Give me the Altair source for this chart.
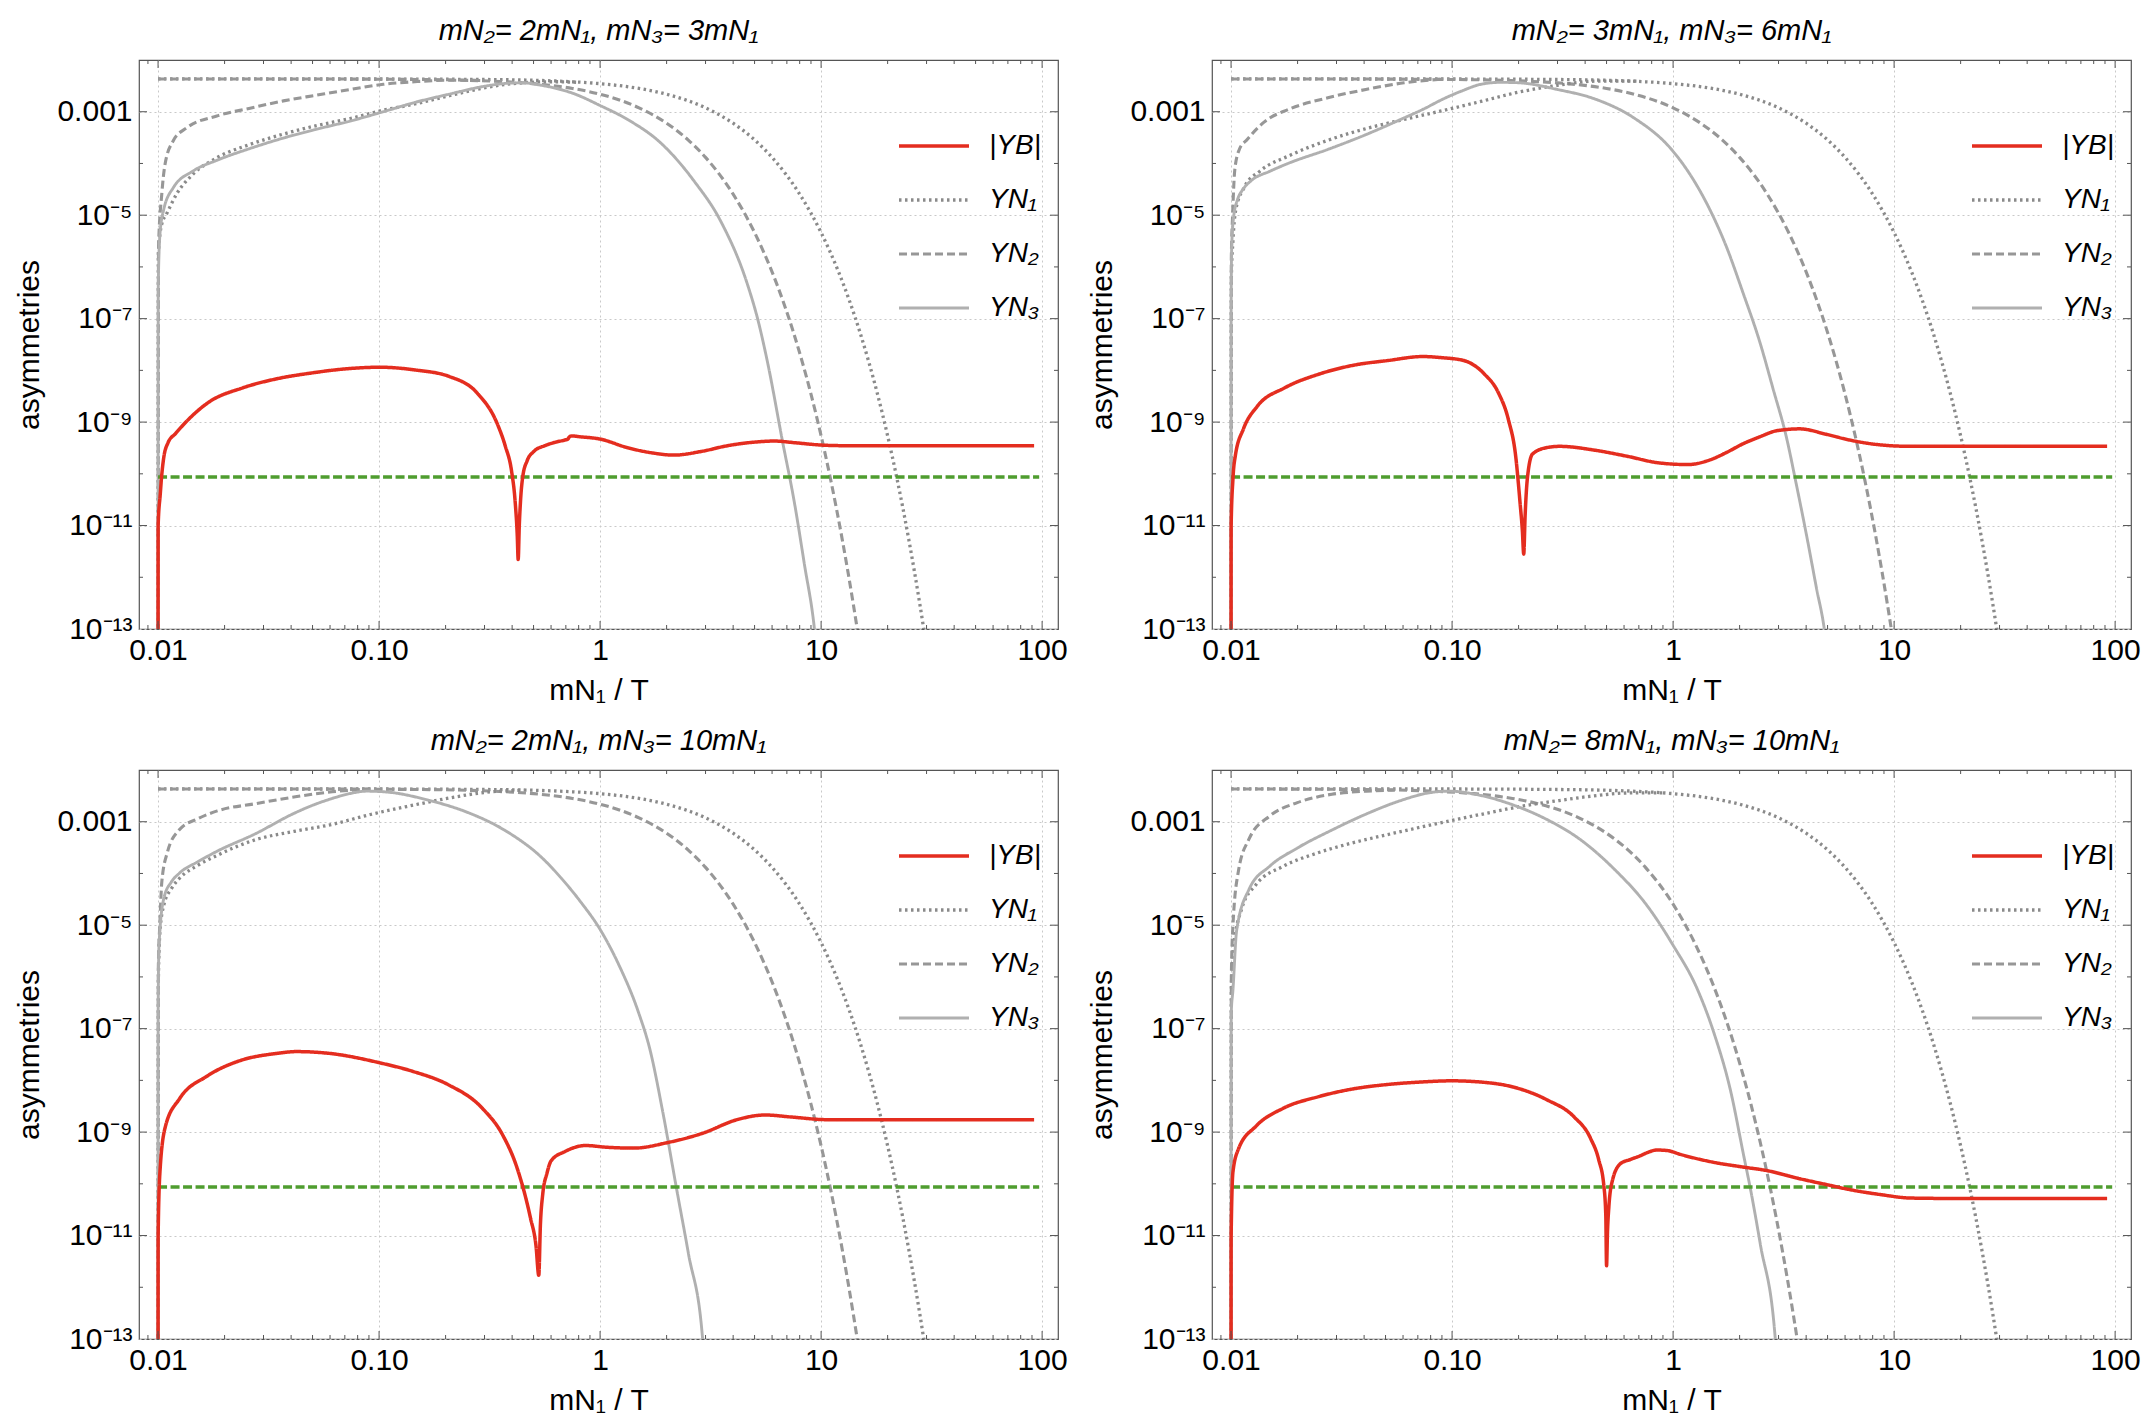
import altair as alt
import pandas as pd

FONT = "Liberation Sans"
W, H = 919, 569

SERIES = ["|YB|", "YN₁", "YN₂", "YN₃"]
COLORS = ["#e42d1f", "#8a8a8a", "#979797", "#b0b0b0"]
DASHES = [[1, 0], [2.5, 3.5], [8, 4], [1, 0]]
WIDTHS = [3.5, 2.9, 2.8, 3.0]

TITLES = [
    "mN₂= 2mN₁, mN₃= 3mN₁",
    "mN₂= 3mN₁, mN₃= 6mN₁",
    "mN₂= 2mN₁, mN₃= 10mN₁",
    "mN₂= 8mN₁, mN₃= 10mN₁",
]

Y_OBS = 8.7e-11
GREEN_X = [0.01, 97.0]

X_LABEL_VALUES = [0.01, 0.1, 1, 10, 100]
Y_LABEL_VALUES = [1e-13, 1e-11, 1e-9, 1e-7, 1e-5, 1e-3]
X_MAJOR = [0.01, 0.1, 1, 10, 100]
X_MINOR = [0.009, 0.02, 0.03, 0.04, 0.05, 0.06, 0.07, 0.08, 0.09,
           0.2, 0.3, 0.4, 0.5, 0.6, 0.7, 0.8, 0.9,
           2, 3, 4, 5, 6, 7, 8, 9, 20, 30, 40, 50, 60, 70, 80, 90]
Y_MAJOR = [1e-11, 1e-9, 1e-7, 1e-5, 1e-3]
Y_MINOR = [1e-12, 1e-10, 1e-8, 1e-6, 1e-4]

# equilibrium-like tails (same shape, shifted by the mass ratio)
EQ_Y = [4.3e-3, 4.29e-3, 4.2e-3, 4.06e-3, 3.85e-3, 3.49e-3, 2.82e-3, 2.18e-3, 1.19e-3,
        5.99e-4, 2.86e-4, 1.31e-4, 2.55e-5, 4.62e-6, 8.0e-7, 5.4e-8, 3.47e-9, 5.44e-10,
        8.43e-11, 5.04e-12, 2.95e-13, 4.41e-14, 6.5e-15]
EQ_X_R1 = [0.01, 0.1, 0.3, 0.5, 0.7, 1, 1.5, 2, 3, 4, 5, 6, 8, 10, 12, 15, 18, 20, 22, 25, 28, 30, 32]
EQ_X_R2 = [0.01, 0.05, 0.15, 0.25, 0.35, 0.5, 0.75, 1, 1.5, 2, 2.5, 3, 4, 5, 6, 7.5, 9, 10, 11,
           12.5, 14, 15, 16]
EQ_X_R3 = [0.01, 0.0333, 0.1, 0.1667, 0.2333, 0.3333, 0.5, 0.6667, 1, 1.333, 1.667, 2, 2.667,
           3.333, 4, 5, 6, 6.667, 7.333, 8.333, 9.333, 10, 10.67]
EQ_X_R8 = [0.01, 0.0125, 0.0375, 0.0625, 0.0875, 0.125, 0.1875, 0.25, 0.375, 0.5, 0.625, 0.75,
           1, 1.25, 1.5, 1.875, 2.25, 2.5, 2.75, 3.125, 3.5, 3.75, 4.0]

# ---------------- panel 1 ----------------
P1_YB_X = [0.01, 0.01001, 0.01023, 0.01038, 0.0106, 0.0111, 0.012, 0.0141, 0.0169, 0.0242,
           0.0346, 0.0495, 0.0708, 0.101, 0.145, 0.208, 0.277, 0.344, 0.372, 0.398, 0.412,
           0.422, 0.426, 0.431, 0.437, 0.447, 0.468, 0.501, 0.562, 0.631, 0.692, 0.716, 0.724,
           0.741, 0.813, 1.0, 1.33, 1.76, 2.16, 2.86, 3.78, 4.99, 6.15, 7.57, 10.0, 12.8, 21.5, 92.0]
P1_YB_Y = [1e-14, 1e-11, 4.0e-11, 8.9e-11, 2.0e-10, 4.0e-10, 6.0e-10, 1.26e-9, 2.4e-9, 4.6e-9,
           6.9e-9, 8.9e-9, 1.07e-8, 1.15e-8, 1.02e-8, 7.6e-9, 3.7e-9, 8.9e-10, 3.5e-10, 1.1e-10,
           3.2e-11, 6.3e-12, 2.2e-12, 1.0e-11, 3.2e-11, 8.9e-11, 1.8e-10, 2.7e-10, 3.5e-10,
           4.1e-10, 4.5e-10, 4.7e-10, 5.1e-10, 5.4e-10, 5.2e-10, 4.7e-10, 3.2e-10, 2.5e-10,
           2.3e-10, 2.7e-10, 3.5e-10, 4.1e-10, 4.3e-10, 4.0e-10, 3.6e-10, 3.5e-10, 3.5e-10, 3.5e-10]
P1_N1_X = [0.01, 0.01003, 0.0104, 0.01094, 0.01216, 0.01445, 0.01845, 0.0261, 0.0369, 0.0522,
           0.074, 0.1045, 0.145, 0.208, 0.298, 0.398, 0.61, 0.8]
P1_N1_Y = [1e-14, 1.8e-6, 6.8e-6, 1.07e-5, 2.6e-5, 6.3e-5, 1.29e-4, 2.34e-4, 3.7e-4, 5.4e-4,
           7.4e-4, 1.07e-3, 1.41e-3, 2.04e-3, 2.88e-3, 3.47e-3, 3.8e-3, 3.7e-3]
P1_N2_X = [0.01, 0.01005, 0.0104, 0.01076, 0.01172, 0.01349, 0.01845, 0.0261, 0.0369, 0.0522,
           0.074, 0.1045, 0.145, 0.208, 0.3]
P1_N2_Y = [1e-14, 2.4e-6, 2.6e-5, 9.8e-5, 2.75e-4, 4.9e-4, 8.3e-4, 1.17e-3, 1.62e-3, 2.09e-3,
           2.69e-3, 3.39e-3, 3.8e-3, 4.07e-3, 4.0e-3]
P1_N3_X = [0.01, 0.01002, 0.0102, 0.01057, 0.01172, 0.01445, 0.01845, 0.0261, 0.0369, 0.0522,
           0.074, 0.1045, 0.145, 0.208, 0.298, 0.38, 0.447, 0.53, 0.76, 1.0, 1.33, 1.88, 2.67,
           3.5, 4.65, 5.16, 5.73, 6.7, 7.57, 8.4, 9.33, 9.6]
P1_N3_Y = [1e-14, 4.0e-7, 4.3e-6, 1.2e-5, 3.4e-5, 7.2e-5, 1.15e-4, 1.95e-4, 3.1e-4, 4.6e-4,
           6.6e-4, 1.0e-3, 1.51e-3, 2.19e-3, 3.09e-3, 3.55e-3, 3.63e-3, 3.3e-3, 2.24e-3, 1.32e-3,
           7.1e-4, 2.5e-4, 4.5e-5, 7.9e-6, 4.5e-7, 1.0e-7, 1.4e-8, 4.1e-10, 2.8e-11, 1.8e-12,
           1.0e-13, 3.0e-14]

# ---------------- panel 2 ----------------
P2_YB_X = [0.01, 0.01001, 0.0102, 0.01045, 0.01138, 0.01312, 0.0175, 0.0251, 0.0359, 0.0513,
           0.0735, 0.0912, 0.113, 0.14, 0.162, 0.18, 0.194, 0.203, 0.208, 0.211, 0.214, 0.219,
           0.231, 0.267, 0.307, 0.434, 0.615, 0.87, 1.17, 1.47, 1.74, 2.07, 2.47, 2.94, 3.74,
           4.94, 6.3, 8.3, 11.8, 92.0]
P2_YB_Y = [1e-14, 1e-11, 8e-11, 2.2e-10, 7.4e-10, 2.0e-9, 4.6e-9, 8.5e-9, 1.26e-8, 1.55e-8,
           1.85e-8, 1.75e-8, 1.55e-8, 8.5e-9, 3.7e-9, 1.1e-9, 2.2e-10, 2.8e-11, 8e-12, 2.8e-12,
           1.5e-11, 7.9e-11, 2.4e-10, 3.2e-10, 3.4e-10, 2.9e-10, 2.2e-10, 1.62e-10, 1.51e-10,
           1.86e-10, 2.57e-10, 3.8e-10, 5.2e-10, 6.8e-10, 7.4e-10, 5.8e-10, 4.5e-10, 3.7e-10,
           3.4e-10, 3.4e-10]
P2_N1_X = [0.01, 0.01003, 0.0102, 0.0105, 0.0115, 0.0135, 0.0183, 0.0274, 0.0407, 0.0607,
           0.0906, 0.135, 0.201, 0.3, 0.45, 0.7]
P2_N1_Y = [1e-14, 6e-7, 3.2e-6, 1.26e-5, 3.5e-5, 7.1e-5, 1.41e-4, 2.8e-4, 4.7e-4, 7.1e-4,
           1.05e-3, 1.58e-3, 2.4e-3, 3.24e-3, 3.9e-3, 3.9e-3]
P2_N2_X = [0.01, 0.01003, 0.01016, 0.0104, 0.0109, 0.01183, 0.0141, 0.0183, 0.0274, 0.0407,
           0.0607, 0.0906]
P2_N2_Y = [1e-14, 1.5e-6, 9.5e-6, 7.6e-5, 1.86e-4, 2.9e-4, 6.3e-4, 1.12e-3, 1.86e-3, 2.69e-3,
           3.63e-3, 4.27e-3]
P2_N3_X = [0.01, 0.01001, 0.01007, 0.01028, 0.0107, 0.01135, 0.0123, 0.01503, 0.01832, 0.02735,
           0.0407, 0.0607, 0.0741, 0.0906, 0.1104, 0.135, 0.165, 0.201, 0.3, 0.447, 0.665, 0.993,
           1.23, 1.47, 1.74, 2.07, 2.47, 2.83, 3.26, 3.61, 4.0, 4.45, 4.85, 5.0]
P2_N3_Y = [1e-14, 2e-7, 2.5e-6, 9.5e-6, 2.0e-5, 3.2e-5, 4.6e-5, 7.1e-5, 1.02e-4, 1.86e-4,
           3.6e-4, 7.6e-4, 1.12e-3, 1.74e-3, 2.51e-3, 3.39e-3, 3.7e-3, 3.63e-3, 2.69e-3, 1.74e-3,
           7.6e-4, 1.78e-4, 5.0e-5, 1.26e-5, 2.5e-6, 3.2e-7, 3.5e-8, 4.5e-9, 5.0e-10, 6.3e-11,
           7.1e-12, 6.3e-13, 8.9e-14, 3e-14]

# ---------------- panel 3 ----------------
P3_YB_X = [0.01, 0.01001, 0.0102, 0.0108, 0.0125, 0.01663, 0.0238, 0.0341, 0.0423, 0.0605, 0.1,
           0.143, 0.205, 0.293, 0.364, 0.42, 0.484, 0.513, 0.528, 0.537, 0.55, 0.575, 0.601,
           0.693, 0.861, 1.067, 1.42, 2.03, 2.91, 4.17, 5.56, 7.4, 10.6, 21.7, 92.0]
P3_YB_Y = [1e-14, 1e-11, 1.7e-10, 1.29e-9, 4.4e-9, 1.2e-8, 2.45e-8, 3.3e-8, 3.6e-8, 3.3e-8,
           2.2e-8, 1.48e-8, 8.3e-9, 2.9e-9, 8.5e-10, 2.1e-10, 2.2e-11, 6.3e-12, 1.7e-12, 1.6e-11,
           6.2e-11, 1.6e-10, 2.8e-10, 4.2e-10, 5.5e-10, 5.1e-10, 4.9e-10, 6.3e-10, 9.5e-10,
           1.74e-9, 2.14e-9, 1.95e-9, 1.74e-9, 1.74e-9, 1.74e-9]
P3_N1_X = [0.01, 0.01003, 0.0102, 0.01062, 0.0115, 0.01245, 0.0152, 0.01854, 0.02265, 0.02767,
           0.0412, 0.0614, 0.0914, 0.136, 0.203, 0.303, 0.451]
P3_N1_Y = [1e-14, 8e-7, 7.4e-6, 2.45e-5, 5.1e-5, 7.9e-5, 1.45e-4, 2.24e-4, 3.3e-4, 4.5e-4,
           6.5e-4, 8.9e-4, 1.38e-3, 2.0e-3, 2.82e-3, 3.7e-3, 4.07e-3]
P3_N2_X = [0.01, 0.01003, 0.0102, 0.0104, 0.01104, 0.01245, 0.0152, 0.01854, 0.02767, 0.0412,
           0.0614, 0.0914]
P3_N2_Y = [1e-14, 1.5e-6, 1.15e-5, 6.9e-5, 2.63e-4, 6.9e-4, 1.15e-3, 1.62e-3, 2.24e-3, 3.0e-3,
           3.8e-3, 4.27e-3]
P3_N3_X = [0.01, 0.01001, 0.0101, 0.01062, 0.0115, 0.01245, 0.0152, 0.01854, 0.02767, 0.0412,
           0.0502, 0.0614, 0.0748, 0.0879, 0.112, 0.166, 0.248, 0.369, 0.55, 0.671, 0.818, 1.0,
           1.22, 1.49, 1.68, 1.92, 2.22, 2.51, 2.91, 3.0]
P3_N3_Y = [1e-14, 2e-7, 4.1e-6, 3.3e-5, 6.9e-5, 1.0e-4, 1.7e-4, 2.7e-4, 5.9e-4, 1.45e-3,
           2.09e-3, 2.82e-3, 3.55e-3, 3.9e-3, 3.7e-3, 2.63e-3, 1.55e-3, 6.9e-4, 1.95e-4, 7.9e-5,
           2.8e-5, 8.3e-6, 1.66e-6, 2.1e-7, 4.0e-8, 2.5e-9, 7.9e-11, 4.5e-12, 1.0e-13, 1e-14]

# ---------------- panel 4 ----------------
P4_YB_X = [0.01, 0.01001, 0.0102, 0.0108, 0.01294, 0.01726, 0.0247, 0.0354, 0.0507, 0.0726,
           0.1, 0.134, 0.19, 0.269, 0.355, 0.423, 0.461, 0.486, 0.496, 0.5, 0.505, 0.512, 0.53,
           0.578, 0.64, 0.712, 0.763, 0.846, 0.94, 1.08, 1.53, 2.09, 2.66, 3.64, 5.15, 6.13,
           8.67, 12.0, 20.0, 92.0]
P4_YB_Y = [1e-14, 1e-11, 1.7e-10, 4.7e-10, 1.29e-9, 2.9e-9, 4.8e-9, 6.8e-9, 8.3e-9, 9.3e-9,
           9.8e-9, 9.3e-9, 7.4e-9, 4.2e-9, 2.0e-9, 7.6e-10, 2.9e-10, 9.3e-11, 2.5e-11, 2.6e-12,
           1.2e-11, 3.5e-11, 1.1e-10, 2.45e-10, 2.95e-10, 3.5e-10, 4.0e-10, 4.5e-10, 4.4e-10,
           3.7e-10, 2.6e-10, 2.1e-10, 1.8e-10, 1.29e-10, 9.3e-11, 7.9e-11, 6.2e-11, 5.3e-11,
           5.2e-11, 5.2e-11]
P4_N1_X = [0.01, 0.01003, 0.0102, 0.01122, 0.01294, 0.01726, 0.0247, 0.0354, 0.0507, 0.0726,
           0.104, 0.149, 0.213, 0.305, 0.438, 0.627, 0.9]
P4_N1_Y = [1e-14, 6e-7, 2.9e-6, 2.2e-5, 6.0e-5, 1.38e-4, 2.5e-4, 3.9e-4, 5.6e-4, 7.9e-4,
           1.1e-3, 1.51e-3, 2.04e-3, 2.57e-3, 3.16e-3, 3.6e-3, 3.62e-3]
P4_N2_X = [0.01, 0.01003, 0.0102, 0.0108, 0.01205, 0.01496, 0.01995, 0.0286, 0.0409, 0.055]
P4_N2_Y = [1e-14, 1e-6, 9.8e-6, 1.12e-4, 4.6e-4, 1.29e-3, 2.34e-3, 3.4e-3, 3.9e-3, 4.1e-3]
P4_N3_X = [0.01, 0.01002, 0.0102, 0.0106, 0.01205, 0.01496, 0.01995, 0.0286, 0.0409, 0.0586,
           0.078, 0.0968, 0.134, 0.19, 0.269, 0.381, 0.54, 0.762, 1.0, 1.285, 1.53, 1.82, 2.09,
           2.24, 2.48, 2.9, 3.0]
P4_N3_Y = [1e-14, 2e-7, 5.6e-7, 7.9e-6, 4.9e-5, 1.38e-4, 3.1e-4, 6.9e-4, 1.41e-3, 2.57e-3,
           3.6e-3, 3.9e-3, 3.24e-3, 2.09e-3, 1.1e-3, 4.5e-4, 1.23e-4, 2.4e-5, 4.1e-6, 5.9e-7,
           8.3e-8, 6.3e-9, 3.4e-10, 7.9e-11, 6.9e-12, 1.0e-13, 1e-14]

XLAB = ("datum.value < 0.05 ? '0.01' : (datum.value < 0.5 ? '0.10' : "
        "(datum.value < 5 ? '1' : (datum.value < 50 ? '10' : '100')))")
YLAB = ("datum.value > 5e-4 ? '0.001' : (datum.value > 5e-6 ? '10\u207b\u2075' : "
        "(datum.value > 5e-8 ? '10\u207b\u2077' : (datum.value > 5e-10 ? '10\u207b\u2079' : "
        "(datum.value > 5e-12 ? '10\u207b\u00b9\u00b9' : '10\u207b\u00b9\u00b3'))))")

FRAME = "#555555"
MAJ, MIN = 8, 4


def make_panel(title, curves):
    frames = []
    for series, cid, xs, ys in curves:
        assert len(xs) == len(ys), (title, cid, len(xs), len(ys))
        frames.append(pd.DataFrame({"series": series, "curve": cid, "x": xs, "y": ys,
                                    "i": list(range(len(xs)))}))
    df = pd.concat(frames, ignore_index=True)

    xsc = alt.Scale(type="log", domain=[0.0082, 118], nice=False)
    ysc = alt.Scale(type="log", domain=[1e-13, 1e-2], nice=False)
    xenc = alt.X("x:Q", scale=xsc,
                 axis=alt.Axis(values=X_LABEL_VALUES, labelExpr=XLAB, title="mN₁ / T",
                               grid=True, labelOverlap=False, labelFlush=False))
    yenc = alt.Y("y:Q", scale=ysc,
                 axis=alt.Axis(values=Y_LABEL_VALUES, labelExpr=YLAB, title="asymmetries",
                               grid=True, labelOverlap=False, labelFlush=False))
    leg = alt.Legend(title=None, orient="none", legendX=758, legendY=61, symbolType="stroke",
                     symbolSize=4900, labelFontSize=28, labelFont=FONT, labelFontStyle="italic",
                     labelOffset=18, clipHeight=50, rowPadding=4, padding=0, labelColor="black")
    color = alt.Color("series:N", scale=alt.Scale(domain=SERIES, range=COLORS), legend=leg)
    dash = alt.StrokeDash("series:N", scale=alt.Scale(domain=SERIES, range=DASHES), legend=leg)
    width = alt.StrokeWidth("series:N", scale=alt.Scale(domain=SERIES, range=WIDTHS), legend=leg)

    common = dict(x=xenc, y=yenc, color=color, strokeDash=dash, strokeWidth=width,
                  detail="curve:N", order="i:Q")
    gray = alt.Chart(df[df.series != SERIES[0]]).mark_line(
        clip=True, interpolate="monotone", strokeCap="butt").encode(**common)
    red = alt.Chart(df[df.series == SERIES[0]]).mark_line(
        clip=True, interpolate="monotone", strokeCap="butt").encode(**common)
    green = alt.Chart(pd.DataFrame({"x": GREEN_X, "y": [Y_OBS, Y_OBS]})).mark_line(
        clip=True, color="#4f9d2f", strokeDash=[9, 3.5], strokeWidth=3.6).encode(x=xenc, y=yenc)

    def xt(vals, ln, top):
        d = pd.DataFrame({"x": vals})
        if top:
            return alt.Chart(d).mark_rule(color=FRAME, strokeWidth=1).encode(
                x=xenc, y=alt.value(0), y2=alt.value(ln))
        return alt.Chart(d).mark_rule(color=FRAME, strokeWidth=1).encode(
            x=xenc, y=alt.value(H), y2=alt.value(H - ln))

    def yt(vals, ln, right):
        d = pd.DataFrame({"y": vals})
        if right:
            return alt.Chart(d).mark_rule(color=FRAME, strokeWidth=1).encode(
                y=yenc, x=alt.value(W), x2=alt.value(W - ln))
        return alt.Chart(d).mark_rule(color=FRAME, strokeWidth=1).encode(
            y=yenc, x=alt.value(0), x2=alt.value(ln))

    ticks = [xt(X_MAJOR, MAJ, False), xt(X_MINOR, MIN, False), xt(X_MAJOR, MAJ, True),
             xt(X_MINOR, MIN, True), yt(Y_MAJOR, MAJ, False), yt(Y_MINOR, MIN, False),
             yt(Y_MAJOR, MAJ, True), yt(Y_MINOR, MIN, True)]

    return alt.layer(gray, green, red, *ticks).properties(
        width=W, height=H,
        title=alt.TitleParams(title, fontSize=29, font=FONT, fontStyle="italic",
                              fontWeight="normal", anchor="middle", offset=14, color="black"))


def panel_curves(yb, n1, n2, n3, eq2x):
    return [
        (SERIES[1], "eq1", EQ_X_R1, EQ_Y),
        (SERIES[2], "eq2", eq2x, EQ_Y),
        (SERIES[1], "n1", n1[0], n1[1]),
        (SERIES[2], "n2", n2[0], n2[1]),
        (SERIES[3], "n3", n3[0], n3[1]),
        (SERIES[0], "yb", yb[0], yb[1]),
    ]


p1 = make_panel(TITLES[0], panel_curves((P1_YB_X, P1_YB_Y), (P1_N1_X, P1_N1_Y),
                                        (P1_N2_X, P1_N2_Y), (P1_N3_X, P1_N3_Y), EQ_X_R2))
p2 = make_panel(TITLES[1], panel_curves((P2_YB_X, P2_YB_Y), (P2_N1_X, P2_N1_Y),
                                        (P2_N2_X, P2_N2_Y), (P2_N3_X, P2_N3_Y), EQ_X_R3))
p3 = make_panel(TITLES[2], panel_curves((P3_YB_X, P3_YB_Y), (P3_N1_X, P3_N1_Y),
                                        (P3_N2_X, P3_N2_Y), (P3_N3_X, P3_N3_Y), EQ_X_R2))
p4 = make_panel(TITLES[3], panel_curves((P4_YB_X, P4_YB_Y), (P4_N1_X, P4_N1_Y),
                                        (P4_N2_X, P4_N2_Y), (P4_N3_X, P4_N3_Y), EQ_X_R8))

IND = dict(color="independent", strokeDash="independent", strokeWidth="independent")
row1 = alt.hconcat(p1, p2, spacing=19).resolve_scale(**IND).resolve_legend(**IND)
row2 = alt.hconcat(p3, p4, spacing=19).resolve_scale(**IND).resolve_legend(**IND)

chart = alt.vconcat(row1, row2, spacing=19).resolve_scale(**IND).resolve_legend(**IND).properties(
    padding={"left": 6, "top": 7, "right": 0, "bottom": 0}, background="white"
).configure_view(
    stroke=FRAME, strokeWidth=1.2
).configure_axis(
    labelFont=FONT, titleFont=FONT, labelFontSize=30, titleFontSize=30,
    titleFontWeight="normal", labelColor="black", titleColor="black",
    domain=False, ticks=False, gridColor="#c9c9c9", gridDash=[2, 3], gridWidth=1
).configure_axisX(labelPadding=6, titlePadding=10).configure_axisY(labelPadding=7, titlePadding=12)

chart.save("out.html", embed_options={"renderer": "svg", "actions": False})
